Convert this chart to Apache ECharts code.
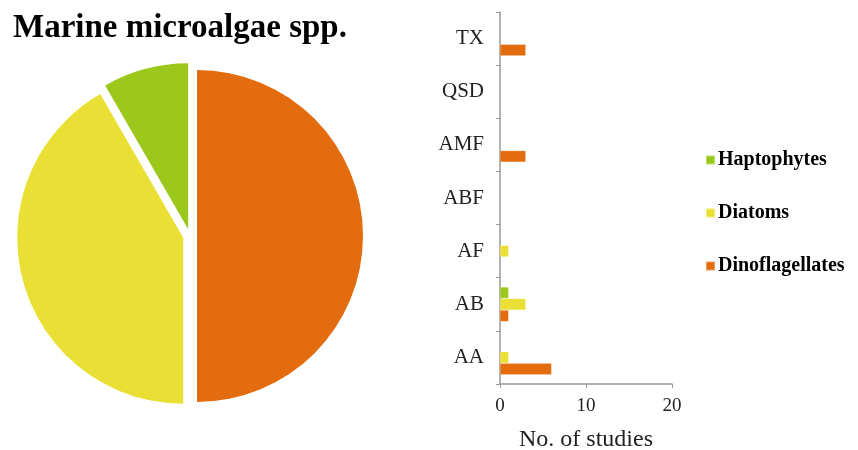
<!DOCTYPE html>
<html>
<head>
<meta charset="utf-8">
<script src="https://cdn.jsdelivr.net/npm/echarts@6/dist/echarts.min.js"></script>
<style>
  html, body { margin: 0; padding: 0; background: #fff; }
  #main { width: 858px; height: 450px; }
</style>
</head>
<body>
<div id="main"></div>
<script>
// pie shares
var pieNames = ['Dinoflagellates', 'Diatoms', 'Haptophytes'];
var pieValues = [6, 5, 1];

// bar chart, bottom to top
var categories = ['AA', 'AB', 'AF', 'ABF', 'AMF', 'QSD', 'TX'];
var dinoValues = [6, 1, 0, 0, 3, 0, 3];
var diatomValues = [1, 3, 1, 0, 0, 0, 0];
var haptoValues = [0, 1, 0, 0, 0, 0, 0];
var xTicks = [0, 10, 20];

var colors = {
    'Haptophytes': '#9bc81a',
    'Diatoms': '#eae035',
    'Dinoflagellates': '#e36c0f'
};

var serif = '"Liberation Serif", "DejaVu Serif", serif';

var pieData = [];
for (var i = 0; i < pieNames.length; i++) {
    pieData.push({
        name: pieNames[i],
        value: pieValues[i],
        selected: true,
        itemStyle: { color: colors[pieNames[i]] }
    });
}

function barSeries(name, values) {
    return {
        name: name,
        type: 'bar',
        barWidth: 11.5,
        barGap: '0%',
        itemStyle: {
            color: colors[name],
            borderColor: 'rgba(255,255,255,0.35)',
            borderWidth: 0.5
        },
        data: values.map(function (v) { return v === 0 ? '-' : v; })
    };
}

var chart = echarts.init(document.getElementById('main'), null, { renderer: 'canvas' });

var option = {
    animation: false,
    backgroundColor: '#fff',
    title: {
        text: 'Marine microalgae spp.',
        left: 8,
        top: 7,
        textStyle: {
            fontFamily: serif,
            fontWeight: 'bold',
            fontSize: 33,
            color: '#000'
        }
    },
    legend: {
        data: ['Haptophytes', 'Diatoms', 'Dinoflagellates'],
        orient: 'vertical',
        left: 700,
        top: 145,
        itemGap: 33,
        itemWidth: 9,
        itemHeight: 9,
        icon: 'rect',
        selectedMode: false,
        textStyle: {
            fontFamily: serif,
            fontWeight: 'bold',
            fontSize: 20,
            color: '#000',
            padding: [0, 0, 0, -2]
        }
    },
    grid: {
        left: 500,
        top: 12,
        width: 172,
        height: 372,
        outerBoundsMode: 'none',
        containLabel: false
    },
    xAxis: {
        type: 'value',
        min: 0,
        max: 20,
        interval: 10,
        name: 'No. of studies',
        nameLocation: 'middle',
        nameGap: 44,
        nameTextStyle: { fontFamily: serif, fontSize: 24, color: '#222' },
        axisLine: { show: true, lineStyle: { color: '#999', width: 1.5 } },
        axisTick: { show: true, length: 4, lineStyle: { color: '#999' } },
        axisLabel: {
            fontFamily: serif, fontSize: 19, color: '#222', margin: 13,
            formatter: function (v) { return xTicks.indexOf(v) >= 0 ? String(v) : ''; }
        },
        splitLine: { show: false }
    },
    yAxis: {
        type: 'category',
        data: categories,
        axisLine: { show: true, lineStyle: { color: '#999', width: 1.5 } },
        axisTick: { show: true, length: 4, lineStyle: { color: '#999' } },
        axisLabel: { fontFamily: serif, fontSize: 21, color: '#222', margin: 16 }
    },
    series: [
        {
            name: 'Marine microalgae',
            type: 'pie',
            center: [190, 236],
            radius: 166,
            startAngle: 90,
            clockwise: true,
            selectedMode: 'multiple',
            selectedOffset: 7,
            label: { show: false },
            labelLine: { show: false },
            emphasis: { disabled: true },
            data: pieData
        },
        barSeries('Haptophytes', haptoValues),
        barSeries('Diatoms', diatomValues),
        barSeries('Dinoflagellates', dinoValues)
    ]
};

chart.setOption(option);
</script>
</body>
</html>
